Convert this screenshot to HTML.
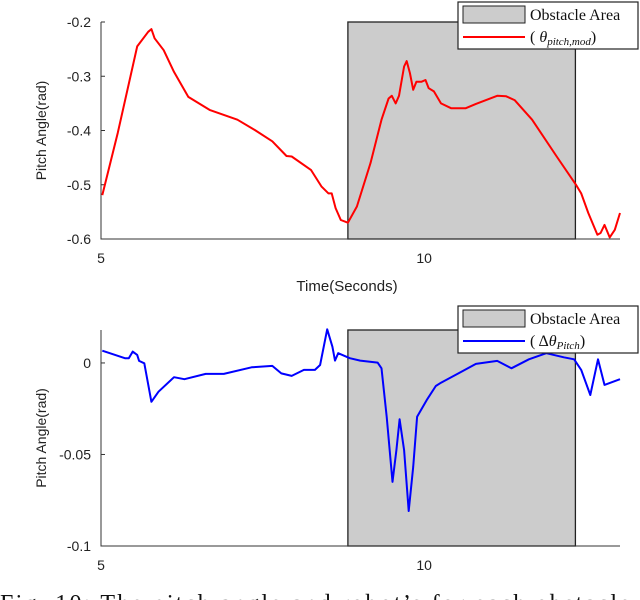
<!DOCTYPE html>
<html><head><meta charset="utf-8">
<style>
html,body{margin:0;padding:0;background:#fff;width:640px;height:600px;overflow:hidden}
svg{display:block}
.sans{font-family:"Liberation Sans",sans-serif}
.serif{font-family:"Liberation Serif",serif}
</style></head>
<body>
<svg id="c" width="640" height="600" viewBox="0 0 640 600"></svg>
<script>
const topTimes=[5.02,5.26,5.56,5.73,5.78,5.83,5.97,6.13,6.35,6.68,7.11,7.38,7.65,7.87,7.95,8.25,8.41,8.52,8.57,8.63,8.71,8.82,8.96,9.17,9.34,9.45,9.50,9.56,9.61,9.69,9.73,9.78,9.83,9.88,9.96,10.02,10.07,10.15,10.26,10.42,10.64,10.80,11.13,11.27,11.40,11.67,12.05,12.35,12.43,12.54,12.68,12.73,12.79,12.87,12.95,13.03];
const topValues=[-0.519,-0.404,-0.245,-0.218,-0.213,-0.230,-0.252,-0.292,-0.338,-0.362,-0.380,-0.399,-0.420,-0.447,-0.448,-0.473,-0.503,-0.516,-0.516,-0.543,-0.565,-0.570,-0.540,-0.460,-0.380,-0.341,-0.336,-0.350,-0.336,-0.282,-0.272,-0.294,-0.325,-0.310,-0.310,-0.307,-0.322,-0.328,-0.350,-0.359,-0.359,-0.351,-0.336,-0.337,-0.344,-0.380,-0.448,-0.500,-0.516,-0.552,-0.592,-0.589,-0.574,-0.597,-0.583,-0.552];
const botTimes=[5.02,5.37,5.43,5.49,5.56,5.59,5.67,5.78,5.89,6.13,6.29,6.62,6.90,7.33,7.65,7.79,7.95,8.14,8.31,8.39,8.50,8.58,8.62,8.67,8.85,9.01,9.28,9.34,9.42,9.51,9.57,9.62,9.69,9.76,9.83,9.89,10.04,10.18,10.26,10.53,10.80,11.13,11.35,11.62,11.89,12.16,12.32,12.43,12.57,12.69,12.79,13.03];
const botValues=[0.0067,0.0026,0.0026,0.0062,0.0044,0.0011,-0.0002,-0.0212,-0.0157,-0.0078,-0.0089,-0.0060,-0.0060,-0.0024,-0.0016,-0.0057,-0.0071,-0.0038,-0.0038,-0.0011,0.0184,0.0089,0.0013,0.0053,0.0026,0.0013,0.0002,-0.0029,-0.0294,-0.0650,-0.0476,-0.0308,-0.0476,-0.0809,-0.0568,-0.0294,-0.0203,-0.0126,-0.0108,-0.0057,-0.0005,0.0011,-0.0029,0.0020,0.0053,0.0031,0.0020,-0.0038,-0.0175,0.0020,-0.0120,-0.0089];
const xTicks=[5,10];
const topYTicks=[-0.2,-0.3,-0.4,-0.5,-0.6];
const botYTicks=[0,-0.05,-0.1];
const botYLabels=["0","-0.05","-0.1"];
const obstacle=[8.82,12.34];

const NS="http://www.w3.org/2000/svg";
const svg=document.getElementById('c');
function el(tag,attrs,parent,txt){const e=document.createElementNS(NS,tag);for(const k in attrs)e.setAttribute(k,attrs[k]);if(txt!==undefined)e.textContent=txt;(parent||svg).appendChild(e);return e;}
const X0=101,X1=620,T0=5,T1=13.03;
const sx=t=>X0+(t-T0)/(T1-T0)*(X1-X0);

function panel(name,yTop,yBot,vTop,vBot,ticks,labels,times,vals,color,legendY,legPre,legSub,xlabel){
  const g=el('g',{},svg);
  
  
  const sy=v=>yTop+(vTop-v)/(vTop-vBot)*(yBot-yTop);
  const ob=el('rect',{x:sx(obstacle[0]),y:yTop,width:sx(obstacle[1])-sx(obstacle[0]),height:yBot-yTop,fill:'#cccccc',stroke:'#222','stroke-width':1.3},g);
  
  
  const ax=el('path',{d:`M${X0} ${yTop}V${yBot}H${X1}`,fill:'none',stroke:'#333','stroke-width':1},g);
  
  
  ticks.forEach((v,i)=>{
    el('line',{x1:X0,x2:X0+4,y1:sy(v),y2:sy(v),stroke:'#333'},g);
    const t=el('text',{class:'sans',x:91,y:sy(v)+5,'text-anchor':'end','font-size':14,fill:'#222'},g,labels[i]);
    
    
  });
  xTicks.forEach(v=>{
    const t=el('text',{class:'sans',x:sx(v),y:yBot+24,'text-anchor':'middle','font-size':14,fill:'#222'},g,String(v));
    
    
  });
  const cy=(yTop+yBot)/2;
  const yl=el('text',{class:'sans',x:46,y:cy,'text-anchor':'middle','font-size':14,fill:'#222',transform:`rotate(-90 46 ${cy})`},g,'Pitch Angle(rad)');
  
  
  if(xlabel){
    const xl=el('text',{class:'sans',x:347,y:yBot+52,'text-anchor':'middle','font-size':15,fill:'#222'},g,xlabel);
    
    
  }
  const d=times.map((t,i)=>(i?'L':'M')+sx(t).toFixed(1)+' '+sy(vals[i]).toFixed(1)).join('');
  const ln=el('path',{d:d,fill:'none',stroke:color,'stroke-width':2,'stroke-linejoin':'round'},g);
  
  
  const lg=el('g',{},g);
  
  
  el('rect',{x:458,y:legendY,width:180,height:47,fill:'#fff',stroke:'#222','stroke-width':1.2},lg);
  el('rect',{x:463,y:legendY+4,width:62,height:17,fill:'#cccccc',stroke:'#222'},lg);
  el('text',{class:'serif',x:530,y:legendY+18,'font-size':16,fill:'#111'},lg,'Obstacle Area');
  el('line',{x1:463,x2:525,y1:legendY+35,y2:legendY+35,stroke:color,'stroke-width':2},lg);
  const lt=el('text',{class:'serif',x:530,y:legendY+40,'font-size':16,fill:'#111'},lg);
  el('tspan',{},lt,legPre);
  el('tspan',{'font-style':'italic'},lt,'θ');
  el('tspan',{'font-style':'italic','font-size':11,dy:3},lt,legSub);
  el('tspan',{dy:-3},lt,')');
}
panel('top-chart',22,239,-0.2,-0.6,topYTicks,topYTicks.map(String),topTimes,topValues,'#ff0000',2,'( ','pitch,mod','Time(Seconds)');
panel('bottom-chart',330,546,0.018,-0.1,botYTicks,botYLabels,botTimes,botValues,'#0000ff',306,'( Δ','Pitch',null);
const cap=el('text',{class:'serif',x:0,y:611,'font-size':24,fill:'#111',textLength:630,lengthAdjust:'spacing'},svg,'Fig. 10: The pitch angle and robot\u2019s for each obstacle');


</script>
</body></html>
